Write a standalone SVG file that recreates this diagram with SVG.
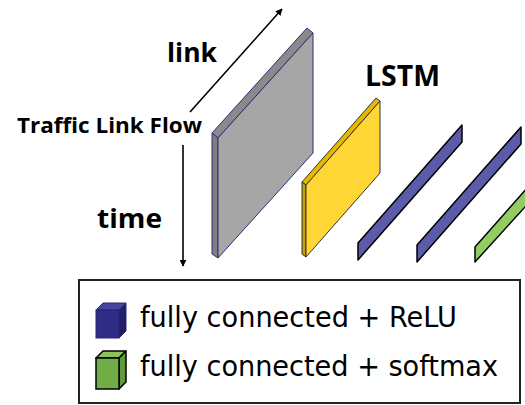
<svg xmlns="http://www.w3.org/2000/svg" width="525" height="405" viewBox="0 0 525 405">
<style>
.lbl{font-family:"Open Sans","Liberation Sans",sans-serif;font-weight:700;fill:#000}
.leg{font-family:"DejaVu Sans","Liberation Sans",sans-serif;font-size:29px;fill:#000}
.ax{stroke:#000;stroke-width:1.6;fill:none}
.bar{stroke:#000;stroke-width:1.5;stroke-linejoin:round}
</style>
<defs>
<marker id="ah" viewBox="0 0 10 10" refX="9" refY="5" markerWidth="7" markerHeight="7" orient="auto" markerUnits="userSpaceOnUse">
<path d="M0,0 L10,5 L0,10 z" fill="#000"/>
</marker>
</defs>
<rect width="525" height="405" fill="#fff"/>
<g id="connectors">
<line class="ax" x1="190" y1="112" x2="282" y2="9" marker-end="url(#ah)"/>
<line class="ax" x1="183" y1="145" x2="183" y2="266" marker-end="url(#ah)"/>
</g>
<g id="labels">
<text class="lbl" x="167" y="62" font-size="27" textLength="50" lengthAdjust="spacingAndGlyphs">link</text>
<text class="lbl" x="17" y="133" font-size="21" textLength="185" lengthAdjust="spacingAndGlyphs">Traffic Link Flow</text>
<text class="lbl" x="97" y="228" font-size="27" textLength="65" lengthAdjust="spacingAndGlyphs">time</text>
</g>
<g id="input">
<polygon points="212,133 307,28 313,33 218,138" fill="#8a8a8a" stroke="#2e2e7a" stroke-width="1"/>
<polygon points="212,133 218,138 218,258 212,254" fill="#7f7f7f" stroke="#2e2e7a" stroke-width="1"/>
<polygon points="218,138 313,33 313,153 218,258" fill="#a6a6a6" stroke="#2e2e7a" stroke-width="1"/>
</g>
<g id="lstm">
<polygon points="302,182 376,98 380,101 306,185" fill="#e6b800" stroke="#333" stroke-width="1"/>
<polygon points="302,182 306,185 306,257 302,254" fill="#c99e00" stroke="#333" stroke-width="1"/>
<polygon points="306,185 380,101 380,173 306,257" fill="#ffd633" stroke="#333" stroke-width="1"/>
<text class="lbl" x="365" y="86" font-size="28" textLength="75" lengthAdjust="spacingAndGlyphs">LSTM</text>
</g>
<g id="fc1">
<polygon class="bar" points="358,243 462,125 462,142 358,260" fill="#5b5baa"/>
</g>
<g id="fc2">
<polygon class="bar" points="417,245 521,127 521,144 417,262" fill="#5b5baa"/>
</g>
<g id="fc3">
<polygon class="bar" points="475,247 535,179 535,196 475,262" fill="#92cd64"/>
</g>
<g id="legend">
<rect x="79" y="280" width="441" height="123" fill="#fff" stroke="#222" stroke-width="2"/>
<g id="legend-relu">
<polygon points="96,310 103,303 126,303 119,310" fill="#4744a0" stroke="#2a2770" stroke-width="1"/>
<polygon points="119,310 126,303 126,331 119,338" fill="#211e6a" stroke="#2a2770" stroke-width="1"/>
<rect x="96" y="310" width="23" height="28" fill="#2f2c88" stroke="#2a2770" stroke-width="1"/>
<text class="leg" x="140" y="327" textLength="317" lengthAdjust="spacingAndGlyphs">fully connected + ReLU</text>
</g>
<g id="legend-softmax">
<polygon points="96,358 103,351 126,351 119,358" fill="#8cc35f" stroke="#000" stroke-width="1.5" stroke-linejoin="round"/>
<polygon points="119,358 126,351 126,382 119,389" fill="#5e9a3a" stroke="#000" stroke-width="1.5" stroke-linejoin="round"/>
<rect x="96" y="358" width="23" height="31" fill="#70ad47" stroke="#000" stroke-width="1.5"/>
<text class="leg" x="140" y="376" textLength="358" lengthAdjust="spacingAndGlyphs">fully connected + softmax</text>
</g>
</g>
</svg>
